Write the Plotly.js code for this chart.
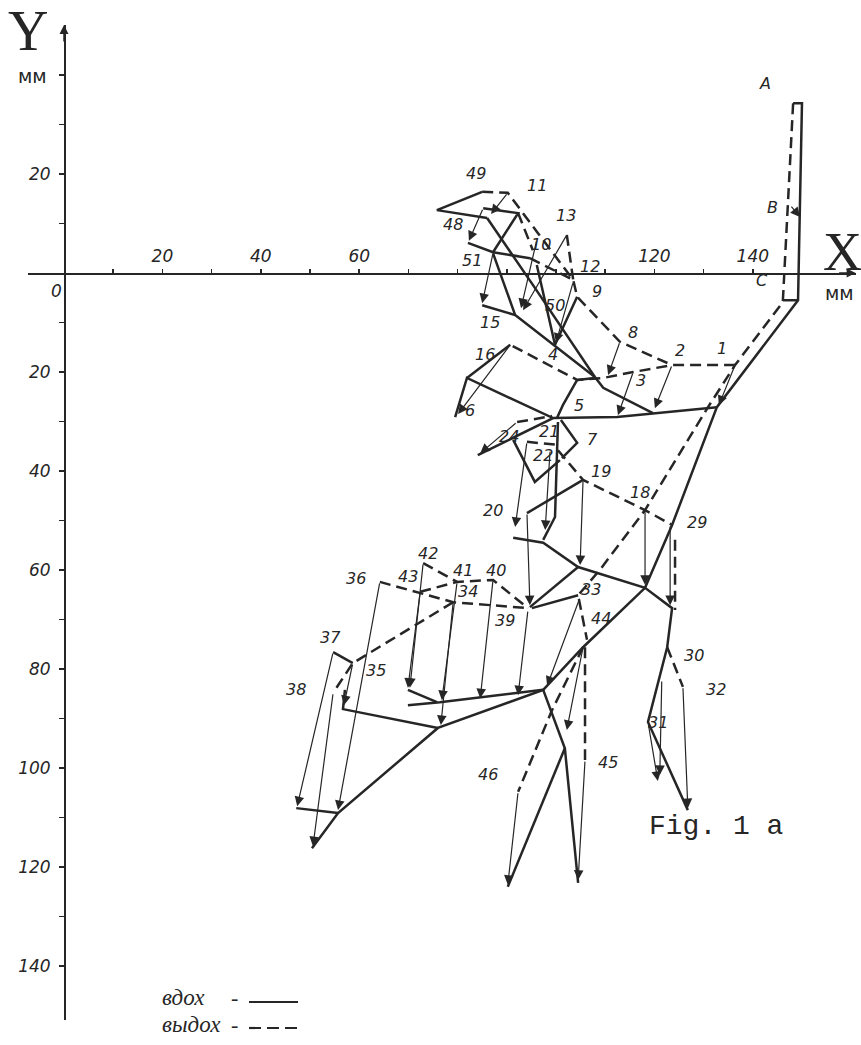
<!DOCTYPE html>
<html>
<head>
<meta charset="utf-8">
<script src="https://cdn.plot.ly/plotly-3.0.1.min.js"></script>
<style>html,body{margin:0;padding:0;background:#fff;}#chart{width:861px;height:1045px;}</style>
</head>
<body>
<div id="chart"></div>
<script>
// ---- inhale (вдох) configuration, solid lines, mm ----
const inhaleX = [
148.2,150.0,149.2,132.7,123.6,118.1,105.5,97.4,76.0,55.7,50.4,null,
146.1,149.2,null,
132.7,112.4,99.4,81.9,79.5,null,
86.0,95.3,107.9,109.6,119.7,null,
87.2,91.7,107.9,null,
91.7,85.0,null,
85.2,92.3,87.2,null,
82.1,87.2,94.7,null,
85.0,75.8,86.0,null,
96.1,99.8,104.3,null,
84.1,99.4,null,
91.3,95.7,100.8,null,
101.0,104.3,101.2,null,
104.3,107.9,null,
104.3,101.4,100.2,null,
100.4,99.8,97.4,null,
91.3,97.4,104.5,118.1,123.6,122.6,118.7,126.8,null,
94.1,105.5,null,
104.5,94.7,null,
104.5,95.1,null,
69.9,75.8,null,
69.9,76.4,97.4,null,
57.1,56.7,76.0,null,
47.2,55.7,null,
54.7,58.7,null,
97.4,101.8,104.5,null,
101.8,90.2,null,
90.7,81.9
];
const inhaleY = [
34.3,34.3,-5.5,-27.1,-50.9,-63.6,-75.6,-84.2,-91.9,-109.1,-116.2,null,
-5.5,-5.5,null,
-27.1,-29.1,-29.3,-21.2,-29.1,null,
11.1,-2.4,-21.0,-23.2,-28.3,null,
4.0,-8.5,-21.0,null,
-8.5,-6.5,null,
13.1,12.1,4.2,null,
6.1,4.2,3.0,null,
16.4,12.7,11.1,null,
1.6,-14.5,-4.8,null,
-36.8,-29.3,null,
-33.7,-42.2,-37.8,null,
-29.7,-34.3,-37.4,null,
-21.6,-21.2,null,
-21.6,-26.7,-29.3,null,
-30.1,-49.3,-53.9,null,
-53.5,-54.5,-59.4,-63.6,-67.7,-75.6,-90.7,-108.5,null,
-48.5,-41.8,null,
-59.4,-67.5,null,
-65.1,-67.7,null,
-84.2,-86.7,null,
-87.3,-86.7,-84.2,null,
-84.2,-88.1,-91.9,null,
-108.1,-109.1,null,
-76.6,-78.8,null,
-84.2,-96.0,-123.2,null,
-96.0,-124.0,null,
-14.5,-21.2
];
// ---- exhale (выдох) configuration, dashed lines, mm ----
const exhaleX = [
148.2,146.1,136.4,130.9,118.1,108.9,104.5,106.3,null,
105.9,105.9,null,
105.5,99.2,92.3,null,
136.4,123.6,115.7,109.6,104.3,90.7,null,
85.0,90.2,96.3,103.5,104.3,113.0,123.6,null,
94.7,103.5,null,
102.2,103.5,null,
92.3,95.3,null,
92.1,99.2,null,
94.1,100.2,null,
100.4,105.5,118.1,123.6,null,
124.2,124.2,null,
122.6,125.8,null,
73.0,79.9,null,
72.4,79.9,87.2,94.3,null,
64.2,79.1,94.3,null,
79.1,58.7,54.7
];
const exhaleY = [
34.3,-5.9,-18.6,-27.1,-47.9,-60.0,-65.1,-74.1,null,
-75.6,-98.4,null,
-75.6,-88.3,-104.8,null,
-18.6,-18.6,-20.0,-21.2,-21.6,-14.5,null,
16.4,16.2,8.1,-1.4,-4.8,-13.9,-18.6,null,
3.0,-1.4,null,
7.7,-1.4,null,
12.1,4.6,null,
-30.1,-28.9,null,
-34.1,-34.7,null,
-35.8,-41.8,-47.9,-50.9,null,
-53.9,-68.1,null,
-75.6,-83.6,null,
-58.6,-62.4,null,
-64.4,-62.4,-62.0,-67.7,null,
-62.4,-66.5,-67.7,null,
-66.5,-78.8,-84.8
];
// ---- displacement arrows (tail -> head), mm ----
const arrowTailX = [147.6,136.4,123.6,115.7,113.0,90.2,85.2,87.2,96.1,102.2,103.5,90.7,92.1,94.1,98.8,105.5,118.1,123.2,94.1,104.9,94.3,87.2,79.9,79.1,73.0,72.4,64.2,54.7,58.7,54.7,105.9,92.3,125.8,118.7,121.5,105.5];
const arrowTailY = [13.7,-18.6,-18.6,-20.0,-13.9,16.2,13.1,4.0,6.7,7.7,-1.8,-14.5,-30.1,-34.1,-35.8,-41.8,-47.9,-50.9,-48.5,-65.5,-68.1,-62.0,-62.4,-66.5,-58.6,-64.4,-62.4,-76.6,-78.8,-84.8,-98.4,-104.8,-83.6,-90.7,-82.2,-75.6];
const arrowHeadX = [149.6,133.1,120.1,112.6,110.6,86.8,82.3,85.0,92.9,93.3,100.0,80.1,84.6,91.7,97.8,104.9,118.1,123.2,94.7,98.2,92.3,84.6,76.8,76.6,70.3,69.9,55.7,47.4,56.9,50.6,104.5,90.2,126.8,120.7,121.1,102.2];
const arrowHeadY = [11.3,-26.7,-27.3,-28.7,-20.6,11.9,6.5,-6.1,-7.1,-7.5,-14.1,-28.5,-36.4,-51.3,-51.9,-59.0,-63.0,-67.1,-67.1,-83.4,-85.3,-85.9,-86.3,-91.3,-83.8,-83.8,-108.5,-107.7,-87.3,-115.8,-122.6,-123.6,-108.1,-102.6,-101.4,-92.3];
// ---- point numbers ----
const pointLabels = ['49','11','13','48','10','51','12','9','50','15','8','2','1','16','4','3','5','6','21','24','7','22','19','18','20','29','36','42','43','41','40','34','33','39','44','37','35','30','32','38','31','45','46','A','B','C'];
const labelX = [83.7,96.1,102.0,79.1,97.0,82.9,106.9,108.3,99.8,86.6,115.7,125.2,133.7,85.6,99.4,117.3,104.7,82.5,98.6,90.4,107.5,97.4,109.1,117.1,87.2,128.7,59.3,74.0,69.9,81.1,87.8,82.1,107.1,89.6,109.1,54.1,63.4,128.0,132.5,47.2,120.7,110.6,86.2,142.5,144.1,141.9];
const labelY = [20.2,17.6,11.7,9.9,5.7,2.6,1.4,-3.8,-6.5,-9.9,-12.1,-15.6,-15.2,-16.4,-16.4,-21.8,-26.7,-27.7,-32.1,-33.1,-33.7,-36.8,-40.0,-44.4,-47.9,-50.3,-61.8,-56.6,-61.4,-60.0,-60.0,-64.4,-64.0,-70.1,-69.7,-73.7,-80.2,-77.2,-84.2,-84.2,-90.7,-98.8,-101.4,38.2,13.3,-1.6];
// ---- axes ticks ----
const xTickVals = [10,20,30,40,50,60,70,80,90,100,110,120,130,140];
const xTickText = ['','20','','40','','60','','','','','','120','','140'];
const yTickVals = [40,30,20,10,-10,-20,-30,-40,-50,-60,-70,-80,-90,-100,-110,-120,-130,-140];
const yTickText = ['','','20','','','20','','40','','60','','80','','100','','120','','140'];

const INK = '#262626';
const tickFont = {family:'DejaVu Sans', size:17, color:INK, style:'italic'};
const lblFont = {family:'DejaVu Sans', size:16, color:INK, style:'italic'};

const traces = [
  {x: inhaleX, y: inhaleY, mode:'lines', line:{color:INK, width:2.5}, connectgaps:false, hoverinfo:'skip', name:'вдох'},
  {x: exhaleX, y: exhaleY, mode:'lines', line:{color:INK, width:2.5, dash:'11px,6px'}, connectgaps:false, hoverinfo:'skip', name:'выдох'}
];

const P = (px, py) => ({x: px/861, y: 1 - py/1045, xref:'paper', yref:'paper', xanchor:'center', yanchor:'middle', showarrow:false});
const ann = [];
for (let i = 0; i < arrowTailX.length; i++) {
  ann.push({x: arrowHeadX[i], y: arrowHeadY[i], ax: arrowTailX[i], ay: arrowTailY[i],
    xref:'x', yref:'y', axref:'x', ayref:'y', text:'', showarrow:true,
    arrowhead:2, arrowsize:1.6, arrowwidth:1.2, arrowcolor:INK, standoff:0, startstandoff:0});
}
for (let i = 0; i < pointLabels.length; i++) {
  ann.push({x: labelX[i], y: labelY[i], xref:'x', yref:'y', xanchor:'center', yanchor:'middle', text: pointLabels[i], showarrow:false, font: lblFont});
}
// axis arrows
ann.push({x:0, y:50.1, xref:'x', yref:'y', ax:0, ay:18, text:'', showarrow:true, arrowhead:2, arrowsize:1.2, arrowwidth:1.5, arrowcolor:INK});
ann.push({x:160.9, y:0, xref:'x', yref:'y', ax:-18, ay:0, text:'', showarrow:true, arrowhead:2, arrowsize:1.2, arrowwidth:1.5, arrowcolor:INK});
// axis names
ann.push(Object.assign(P(28, 31), {text:'Y', font:{family:'Liberation Serif', size:56, color:INK}}));
ann.push(Object.assign(P(32, 76), {text:'мм', font:{family:'DejaVu Sans', size:19, color:INK}}));
ann.push(Object.assign(P(842, 252), {text:'X', font:{family:'Liberation Serif', size:54, color:INK}}));
ann.push(Object.assign(P(839, 293), {text:'мм', font:{family:'DejaVu Sans', size:19, color:INK}}));
ann.push({x:-1.6, y:-3.6, xref:'x', yref:'y', xanchor:'center', yanchor:'middle', text:'0', showarrow:false, font:tickFont});
// figure caption
ann.push(Object.assign(P(716, 826), {text:'Fig. 1 a', font:{family:'Liberation Mono', size:28, color:INK}}));
// legend
ann.push(Object.assign(P(160, 997), {xanchor:'left', text:'вдох', font:{family:'Liberation Serif', size:23, color:INK, style:'italic'}}));
ann.push(Object.assign(P(234, 997), {text:'-', font:{family:'Liberation Serif', size:22, color:INK}}));
ann.push(Object.assign(P(160, 1024), {xanchor:'left', text:'выдох', font:{family:'Liberation Serif', size:23, color:INK, style:'italic'}}));
ann.push(Object.assign(P(234, 1024), {text:'-', font:{family:'Liberation Serif', size:22, color:INK}}));

const shapes = [
  {type:'line', xref:'paper', yref:'paper', x0:249/861, x1:298/861, y0:1-1002/1045, y1:1-1002/1045, line:{color:INK, width:2.2}},
  {type:'line', xref:'paper', yref:'paper', x0:249/861, x1:298/861, y0:1-1028/1045, y1:1-1028/1045, line:{color:INK, width:2.2, dash:'12px,6px'}}
];

const layout = {
  width:861, height:1045, margin:{l:0,r:0,t:0,b:0},
  paper_bgcolor:'#fff', plot_bgcolor:'#fff', showlegend:false,
  xaxis:{domain:[28/861, 856/861], range:[-7.32, 160.98], anchor:'free', position:(1045-273)/1045, side:'top',
    showline:true, linecolor:INK, linewidth:1.6, showgrid:false, zeroline:false,
    tickmode:'array', tickvals:xTickVals, ticktext:xTickText, ticks:'outside', ticklen:4, tickwidth:1.5, tickcolor:INK,
    tickfont:tickFont, fixedrange:true},
  yaxis:{domain:[(1045-1020)/1045, (1045-25)/1045], range:[-150.9, 50.1], anchor:'free', position:64/861, side:'left',
    showline:true, linecolor:INK, linewidth:1.6, showgrid:false, zeroline:false,
    tickmode:'array', tickvals:yTickVals, ticktext:yTickText, ticks:'outside', ticklen:5, tickwidth:1.5, tickcolor:INK,
    ticklabelstandoff:5, tickfont:tickFont, fixedrange:true},
  annotations: ann,
  shapes: shapes
};

Plotly.newPlot('chart', traces, layout, {displayModeBar:false, staticPlot:true});
</script>
</body>
</html>
